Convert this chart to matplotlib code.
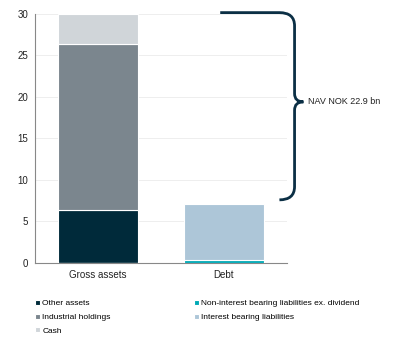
import matplotlib.pyplot as plt
from matplotlib.path import Path
from matplotlib.patches import PathPatch

plt.rcParams['font.family'] = ['Liberation Sans', 'DejaVu Sans']

# Data (NOK bn)
categories = ["Gross assets", "Debt"]
other_assets = [6.4, 0]
industrial_holdings = [20.0, 0]
cash = [3.6, 0]
non_interest_liab = [0, 0.4]
interest_liab = [0, 6.7]
nav_label = "NAV NOK 22.9 bn"

colors = {
    "Other assets": "#002a3a",
    "Industrial holdings": "#7b868e",
    "Cash": "#d0d5d9",
    "Non-interest bearing liabilities ex. dividend": "#00a9b5",
    "Interest bearing liabilities": "#adc6d8",
}

fig = plt.figure(figsize=(4.0, 3.38), dpi=100)
ax = fig.add_axes([0.0875, 0.222, 0.63, 0.737])

x = range(len(categories))
w = 0.64
kw = dict(width=w, edgecolor="white", linewidth=0.8, zorder=3)
b1 = ax.bar(x, other_assets, color=colors["Other assets"], label="Other assets", **kw)
bottom = other_assets
b2 = ax.bar(x, industrial_holdings, bottom=bottom, color=colors["Industrial holdings"],
            label="Industrial holdings", **kw)
bottom = [a + b for a, b in zip(bottom, industrial_holdings)]
b3 = ax.bar(x, cash, bottom=bottom, color=colors["Cash"], label="Cash", **kw)
b4 = ax.bar(x, non_interest_liab, color=colors["Non-interest bearing liabilities ex. dividend"],
            label="Non-interest bearing liabilities ex. dividend", **kw)
b5 = ax.bar(x, interest_liab, bottom=non_interest_liab,
            color=colors["Interest bearing liabilities"],
            label="Interest bearing liabilities", **kw)

ax.set_xlim(-0.5, 1.5)
ax.set_ylim(0, 30)
ax.set_yticks(range(0, 31, 5))
ax.set_xticks(list(x))
ax.set_xticklabels(categories)
ax.tick_params(axis="both", length=0, labelsize=7, colors="#222222", pad=5)
ax.grid(axis="y", color="#ebebeb", linewidth=0.6, zorder=0)
for s in ["top", "right"]:
    ax.spines[s].set_visible(False)
for s in ["left", "bottom"]:
    ax.spines[s].set_color("#888888")
    ax.spines[s].set_linewidth(0.8)

# NAV brace from top of gross assets down to top of debt
y_top = 30.15
y_bot = 7.6
y_mid = 19.4
verts = [(0.97, y_top), (1.44, y_top),
         (1.56, y_top), (1.56, y_top - 1.6),
         (1.56, y_mid + 1.0),
         (1.56, y_mid), (1.63, y_mid),
         (1.56, y_mid), (1.56, y_mid - 1.0),
         (1.56, y_bot + 1.6),
         (1.56, y_bot), (1.44, y_bot)]
codes = [Path.MOVETO, Path.LINETO,
         Path.CURVE3, Path.CURVE3,
         Path.LINETO,
         Path.CURVE3, Path.CURVE3,
         Path.CURVE3, Path.CURVE3,
         Path.LINETO,
         Path.CURVE3, Path.CURVE3]
ax.add_patch(PathPatch(Path(verts, codes), fill=False, edgecolor="#0b2f45",
                       linewidth=2.0, clip_on=False, zorder=4, capstyle="butt"))
ax.text(1.67, y_mid, nav_label, fontsize=6.5, va="center", ha="left", color="#222222")

fig.legend(handles=[b1, b2, b3, b4, b5], loc="upper left", bbox_to_anchor=(0.078, 0.125),
           ncol=2, frameon=False, fontsize=6, handlelength=0.55, handleheight=0.55,
           handletextpad=0.3, columnspacing=10.0, labelspacing=0.75, borderpad=0)

plt.savefig("out.png", dpi=100)
